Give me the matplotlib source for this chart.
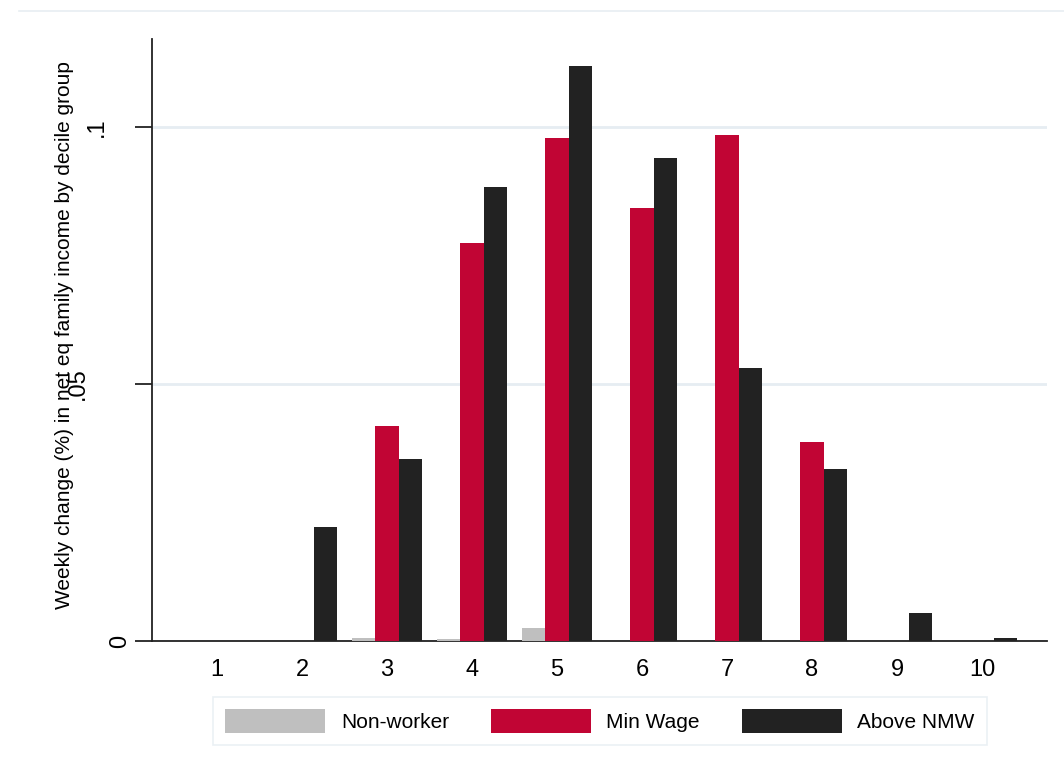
import numpy as np
import matplotlib
matplotlib.use("Agg")
import matplotlib.pyplot as plt
from matplotlib.transforms import ScaledTranslation
from matplotlib.lines import Line2D

plt.rcParams['font.family'] = ['Liberation Sans', 'DejaVu Sans']

# decile groups and weekly change per worker type
deciles = [1, 2, 3, 4, 5, 6, 7, 8, 9, 10]
non_worker = [0.0, 0.0, 0.0006, 0.0003, 0.0026, 0.0, 0.0, 0.0, 0.0, 0.0]
min_wage = [0.0, 0.0, 0.0418, 0.0774, 0.0979, 0.0842, 0.0984, 0.0387, 0.0, 0.0]
above_nmw = [0.0, 0.0222, 0.0354, 0.0883, 0.1119, 0.0940, 0.0531, 0.0335, 0.0055, 0.0006]

series = ['Non-worker', 'Min Wage', 'Above NMW']
colors = ['#bfbfbf', '#c10534', '#222222']
y_ticks = [0, 0.05, 0.1]
y_tick_labels = ['0', '.05', '.1']

fig = plt.figure(figsize=(10.64, 7.74), dpi=100)
ax = fig.add_axes([152 / 1064, 1 - 641 / 774, (1047 - 152) / 1064, (641 - 39) / 774])

x = np.array(deciles)
w = 0.277
for k, (vals, col, name) in enumerate(zip([non_worker, min_wage, above_nmw], colors, series)):
    ax.bar(x + (k - 1) * w, vals, width=w, color=col, label=name, zorder=3, linewidth=0)

ax.set_xlim(0.235, 10.765)
ax.set_ylim(0, 0.1171)
ax.set_xticks(deciles)
ax.set_xticklabels([str(d) for d in deciles], fontsize=17)
ax.tick_params(axis='x', length=0, pad=13)

ax.set_yticks(y_ticks)
ax.set_yticklabels(y_tick_labels, fontsize=17, rotation=90, va='center')
ax.tick_params(axis='y', length=12, width=1.3, pad=3, color='#222222')
# stata-ish uneven label offsets
offsets = {'0': 0, '.05': -42, '.1': -23}
for lab in ax.get_yticklabels():
    dx = offsets.get(lab.get_text(), 0)
    lab.set_transform(lab.get_transform() + ScaledTranslation(dx / 100, 0, fig.dpi_scale_trans))

ax.yaxis.grid(True, color='#e6edf2', linewidth=2, zorder=0)
ax.set_axisbelow(True)

for s in ['top', 'right']:
    ax.spines[s].set_visible(False)
for s in ['left', 'bottom']:
    ax.spines[s].set_linewidth(1.3)
    ax.spines[s].set_color('#222222')

fig.text(65 / 1064, 1 - 335 / 774, 'Weekly change (%) in net eq family income by decile group',
         rotation=90, ha='center', va='center', fontsize=15)

handles, labels = ax.get_legend_handles_labels()
leg = fig.legend(handles, labels, loc='center', bbox_to_anchor=(600 / 1064, 1 - 721 / 774),
                 ncol=3, fontsize=15, frameon=True, fancybox=False,
                 handlelength=4.8, handleheight=1.35, handletextpad=0.75,
                 columnspacing=2.0, borderpad=0.6)
leg.get_frame().set_edgecolor('#e6edf2')
leg.get_frame().set_linewidth(1.2)

# faint page rule along the top
fig.add_artist(Line2D([19 / 1064, 1], [1 - 11 / 774, 1 - 11 / 774], color='#e8eef2', linewidth=1.2))

fig.savefig('out.png', dpi=100)
